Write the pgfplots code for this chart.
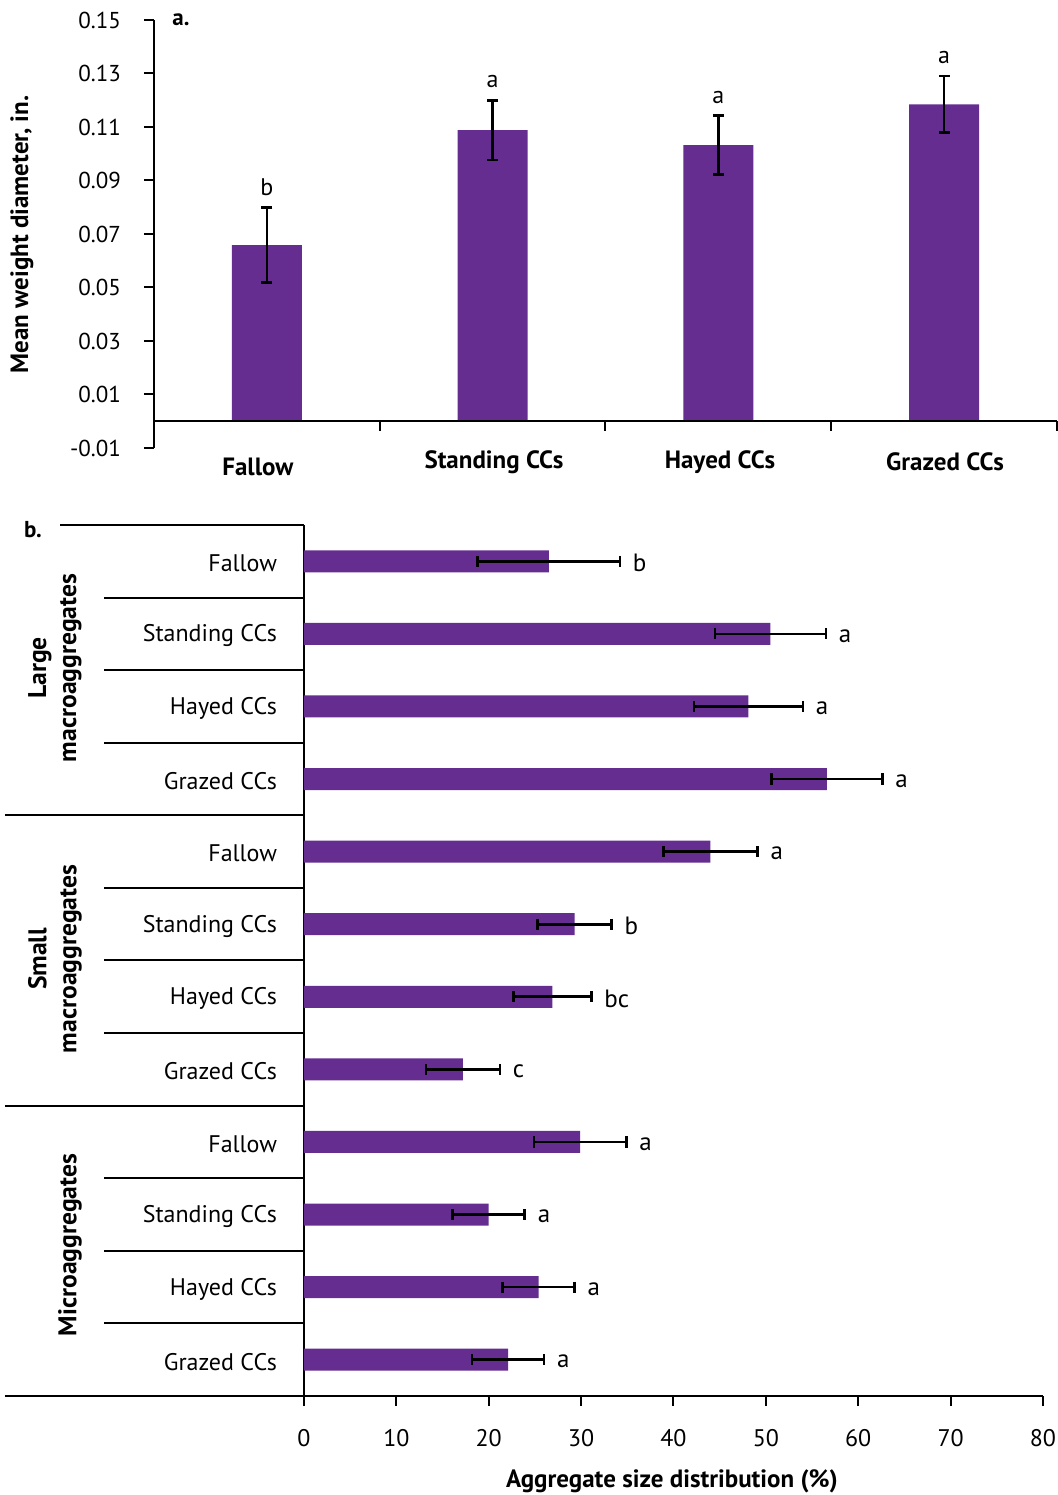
\documentclass[border=0pt]{standalone}
\usepackage{fontspec}
\setmainfont{PT Sans}
\usepackage{pgfplots}
\usepackage{pgfplotstable}
\pgfplotsset{compat=1.18}
\definecolor{purp}{RGB}{102,45,145}

\pgfplotstableread{
x y err lab
0 0.0658 0.0140 b
1 0.1088 0.0112 a
2 0.1032 0.0110 a
3 0.1185 0.0106 a
}\dataA

\pgfplotstableread{
y x err lab
11 26.5 7.7 b
10 50.5 6.0 a
9 48.1 5.9 a
8 56.6 6.0 a
7 44.0 5.1 a
6 29.3 4.0 b
5 26.9 4.2 bc
4 17.2 4.0 c
3 29.9 5.0 a
2 20.0 3.9 a
1 25.4 3.9 a
0 22.1 3.9 a
}\dataB

\begin{document}
\begin{tikzpicture}
\path[use as bounding box] (0,0) rectangle (529pt,747.5pt);

% ---------------- panel a ----------------
\begin{axis}[
 at={(77pt,523.5pt)}, anchor=south west, scale only axis,
 width=451.5pt, height=214pt,
 xmin=-0.5, xmax=3.5, ymin=-0.01, ymax=0.15,
 axis y line*=left, axis x line=none,
 ytick={-0.01,0.01,0.03,0.05,0.07,0.09,0.11,0.13,0.15},
 yticklabels={-0.01,0.01,0.03,0.05,0.07,0.09,0.11,0.13,0.15},
 xtick=\empty,
 tick align=outside, major tick length=5pt,
 tick style={line width=1pt, black},
 axis line style={line width=1pt},
 yticklabel style={font=\fontsize{11.5}{13}\selectfont, xshift=-8pt},
 clip=false,
]
\addplot[ybar, bar width=35pt, fill=purp, draw=none] table[x=x, y=y] {\dataA};
% error bar stems
\addplot[draw=none, mark=none, forget plot,
  error bars/.cd, y dir=both, y explicit, error mark=none,
  error bar style={line width=1.3pt, draw=black}]
  table[x=x, y=y, y error=err] {\dataA};
% caps
\addplot[only marks, mark=-, mark size=2.8pt, line width=1.3pt, black]
  table[x=x, y expr=\thisrow{y}+\thisrow{err}] {\dataA};
\addplot[only marks, mark=-, mark size=2.8pt, line width=1.3pt, black]
  table[x=x, y expr=\thisrow{y}-\thisrow{err}] {\dataA};
% letters
\addplot[only marks, mark=*, mark size=0.01pt, mark options={draw=none, fill=none},
  nodes near coords, point meta=explicit symbolic,
  nodes near coords style={anchor=south, yshift=2.5pt, font=\fontsize{12}{14}\selectfont}]
  table[x=x, y expr=\thisrow{y}+\thisrow{err}, meta=lab] {\dataA};
\draw[line width=1pt] (axis cs:-0.5,0) -- (axis cs:3.5,0);
\draw[line width=1pt] (axis cs:0.5,0) -- ([yshift=-5pt]axis cs:0.5,0);
\draw[line width=1pt] (axis cs:1.5,0) -- ([yshift=-5pt]axis cs:1.5,0);
\draw[line width=1pt] (axis cs:2.5,0) -- ([yshift=-5pt]axis cs:2.5,0);
\draw[line width=1pt] (axis cs:3.5,0) -- ([yshift=-5pt]axis cs:3.5,0);
\node[font=\bfseries\fontsize{12.5}{14}\selectfont, yshift=-9.5pt] at (axis cs:-0.04,-0.01) {Fallow};
\node[font=\bfseries\fontsize{12.5}{14}\selectfont, yshift=-7pt] at (axis cs:1.006,-0.01) {Standing CCs};
\node[font=\bfseries\fontsize{12.5}{14}\selectfont, yshift=-7pt] at (axis cs:2.007,-0.01) {Hayed CCs};
\node[font=\bfseries\fontsize{12.5}{14}\selectfont, yshift=-7pt] at (axis cs:3.004,-0.01) {Grazed CCs};
\end{axis}

\node[rotate=90, font=\bfseries\fontsize{12.5}{14}\selectfont] at (11pt,630.25pt) {Mean weight diameter, in.};
\node[font=\bfseries\fontsize{11.5}{13}\selectfont] at (90.5pt,737.5pt) {a.};

% ---------------- panel b ----------------
\begin{axis}[
 at={(152pt,49.5pt)}, anchor=south west, scale only axis,
 width=369.5pt, height=435.5pt,
 xmin=0, xmax=80, ymin=-0.5, ymax=11.5,
 axis x line*=bottom, axis y line*=left,
 xtick={0,10,...,80}, ytick={0,...,11},
 yticklabels={Grazed CCs, Hayed CCs, Standing CCs, Fallow, Grazed CCs, Hayed CCs, Standing CCs, Fallow, Grazed CCs, Hayed CCs, Standing CCs, Fallow},
 tick align=outside, major tick length=5pt,
 x tick style={line width=1pt, black}, y tick style={draw=none},
 axis line style={line width=1pt},
 xticklabel style={font=\fontsize{12}{14}\selectfont, yshift=-8pt},
 yticklabel style={font=\fontsize{12}{14}\selectfont, xshift=-5pt, yshift=-1pt},
 /pgf/number format/assume math mode=true,
 clip=false,
]
\addplot[xbar, bar width=11pt, fill=purp, draw=none] table[x=x, y=y] {\dataB};
% error bar stems
\addplot[draw=none, mark=none, forget plot,
  error bars/.cd, x dir=both, x explicit, error mark=none,
  error bar style={line width=1.3pt, draw=black}]
  table[x=x, y=y, x error=err] {\dataB};
% caps
\addplot[only marks, mark=|, mark size=2.8pt, line width=1.3pt, black]
  table[x expr=\thisrow{x}+\thisrow{err}, y=y] {\dataB};
\addplot[only marks, mark=|, mark size=2.8pt, line width=1.3pt, black]
  table[x expr=\thisrow{x}-\thisrow{err}, y=y] {\dataB};
% letters
\addplot[only marks, mark=*, mark size=0.01pt, mark options={draw=none, fill=none},
  nodes near coords, point meta=explicit symbolic,
  nodes near coords style={anchor=west, xshift=3pt, yshift=-1pt, font=\fontsize{12.5}{14}\selectfont}]
  table[x expr=\thisrow{x}+\thisrow{err}, y=y, meta=lab] {\dataB};
% separators
\draw[line width=1pt] (axis cs:-26.41,11.5) -- (axis cs:0,11.5);
\draw[line width=1pt] (axis cs:-21.65,10.5) -- (axis cs:0,10.5);
\draw[line width=1pt] (axis cs:-21.65,9.5) -- (axis cs:0,9.5);
\draw[line width=1pt] (axis cs:-21.65,8.5) -- (axis cs:0,8.5);
\draw[line width=1pt] (axis cs:-32.37,7.5) -- (axis cs:0,7.5);
\draw[line width=1pt] (axis cs:-21.65,6.5) -- (axis cs:0,6.5);
\draw[line width=1pt] (axis cs:-21.65,5.5) -- (axis cs:0,5.5);
\draw[line width=1pt] (axis cs:-21.65,4.5) -- (axis cs:0,4.5);
\draw[line width=1pt] (axis cs:-32.37,3.5) -- (axis cs:0,3.5);
\draw[line width=1pt] (axis cs:-21.65,2.5) -- (axis cs:0,2.5);
\draw[line width=1pt] (axis cs:-21.65,1.5) -- (axis cs:0,1.5);
\draw[line width=1pt] (axis cs:-21.65,0.5) -- (axis cs:0,0.5);
\draw[line width=1pt] (axis cs:-32.37,-0.5) -- (axis cs:0,-0.5);
\end{axis}

\node[font=\bfseries\fontsize{11.5}{13}\selectfont] at (16.5pt,482.5pt) {b.};
\node[rotate=90, align=center, font=\bfseries\fontsize{12.8}{15}\selectfont] at (27.5pt,413.5pt) {Large\\macroaggregates};
\node[rotate=90, align=center, font=\bfseries\fontsize{12.8}{15}\selectfont] at (27.5pt,268pt) {Small\\macroaggregates};
\node[rotate=90, font=\bfseries\fontsize{12.8}{15}\selectfont] at (35pt,125pt) {Microaggregates};
\node[font=\bfseries\fontsize{12.5}{14}\selectfont] at (336pt,7pt) {Aggregate size distribution (\%)};
\end{tikzpicture}
\end{document}
